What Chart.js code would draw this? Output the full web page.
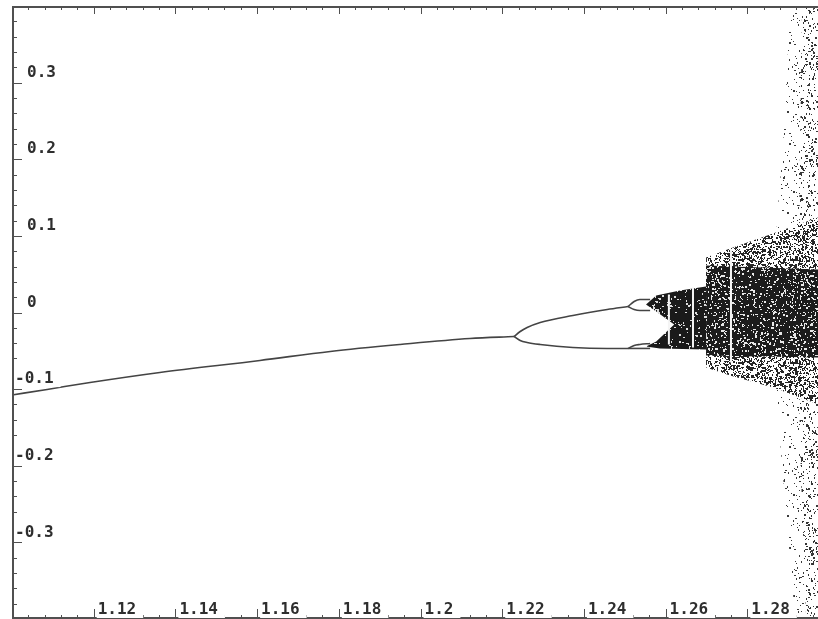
<!DOCTYPE html>
<html>
<head>
<meta charset="utf-8">
<script src="https://cdn.jsdelivr.net/npm/chart.js@4.4.1/dist/chart.umd.min.js"></script>
<style>
  html, body { margin: 0; padding: 0; background: #fff; }
</style>
</head>
<body>
<canvas id="chart" width="818" height="619"></canvas>
<script>
// tick labels
const xTickValues = [1.12, 1.14, 1.16, 1.18, 1.2, 1.22, 1.24, 1.26, 1.28];
const xTickLabels = ["1.12", "1.14", "1.16", "1.18", "1.2", "1.22", "1.24", "1.26", "1.28"];
const yTickValues = [0.3, 0.2, 0.1, 0, -0.1, -0.2, -0.3];
const yTickLabels = ["0.3", "0.2", "0.1", "0", "-0.1", "-0.2", "-0.3"];

// period-1 branch [a, x]
const mainBranch = [[1.1000, -0.1076], [1.1086, -0.1004], [1.1191, -0.0913], [1.1362, -0.0782],
  [1.1607, -0.0626], [1.1779, -0.0508], [1.1950, -0.0417], [1.2121, -0.0339], [1.2229, -0.0313]];

// period-2 branches
const upperBranch = [[1.2229, -0.0313], [1.2244, -0.0248], [1.2261, -0.0196], [1.2293, -0.0130],
  [1.2373, -0.0039], [1.2457, 0.0039], [1.2508, 0.0078]];
const lowerBranch = [[1.2229, -0.0313], [1.2244, -0.0365], [1.2261, -0.0391], [1.2293, -0.0417],
  [1.2373, -0.0456], [1.2457, -0.0469], [1.2508, -0.0469]];

// period-4 loops
const upperLoopTop = [[1.2508, 0.0078], [1.2523, 0.0143], [1.2537, 0.0169], [1.2562, 0.0169]];
const upperLoopBottom = [[1.2508, 0.0078], [1.2523, 0.0039], [1.2537, 0.0026], [1.2562, 0.0026]];
const lowerLoopTop = [[1.2508, -0.0469], [1.2523, -0.0430], [1.2537, -0.0417], [1.2562, -0.0404]];
const lowerLoopBottom = [[1.2508, -0.0469], [1.2562, -0.0469]];

// chaotic regions (outlines)
const bandedChaos = [[1.2552, 0.0104], [1.2577, 0.0222], [1.2635, 0.0287], [1.2699, 0.0339],
  [1.2699, -0.0482], [1.2586, -0.0469], [1.2552, -0.0443], [1.2577, -0.0378],
  [1.2621, -0.0156], [1.2577, 0.0013], [1.2552, 0.0104]];
const coreChaos = [[1.2699, 0.0613], [1.2973, 0.0561], [1.2973, -0.0587], [1.2699, -0.0561], [1.2699, 0.0613]];
const outerChaos = [[1.2699, 0.0717], [1.2758, 0.0834], [1.2863, 0.1030], [1.2973, 0.1239],
  [1.2973, -0.1199], [1.2863, -0.0978], [1.2758, -0.0821], [1.2699, -0.0717], [1.2699, 0.0717]];
const farScatter = [[1.2905, 0.3990], [1.2973, 0.3990], [1.2973, -0.3990], [1.2917, -0.3990],
  [1.2892, -0.2438], [1.2873, -0.1199], [1.2865, 0.0169], [1.2873, 0.1239], [1.2887, 0.2125], [1.2905, 0.3990]];
const edgeScatter = [[1.2934, 0.3990], [1.2973, 0.3990], [1.2973, -0.3990], [1.2944, -0.3990],
  [1.2929, -0.1786], [1.2924, 0.0169], [1.2929, 0.2125], [1.2934, 0.3990]];

// periodic windows
const windowA = [1.2608, 1.2667, 1.2760];
const windowTop = [0.0235, 0.0326, 0.0821];
const windowBottom = [-0.0417, -0.0456, -0.0652];

const pts = arr => arr.map(p => ({ x: p[0], y: p[1] }));

// dotted texture for the chaotic areas
function speckle(base, dot, density, size, seed) {
  const c = document.createElement("canvas");
  c.width = c.height = size;
  const g = c.getContext("2d");
  g.fillStyle = base;
  g.fillRect(0, 0, size, size);
  g.fillStyle = dot;
  let s = seed;
  const next = () => (s = (s * 16807) % 2147483647) / 2147483647;
  const n = Math.floor(size * size * density);
  for (let i = 0; i < n; i++) {
    const w = next() < 0.35 ? 2 : 1;
    const h = next() < 0.35 ? 2 : 1;
    g.fillRect(Math.floor(next() * size), Math.floor(next() * size), w, h);
  }
  return g.createPattern(c, "repeat");
}

const line = (data, color, width, order, smooth) => ({
  data: pts(data), showLine: true, borderColor: color, borderWidth: width,
  pointRadius: 0, fill: false, order: order,
  cubicInterpolationMode: smooth ? "monotone" : "default"
});
const area = (data, pattern, order) => ({
  data: pts(data), showLine: true, borderColor: "rgba(0,0,0,0)", borderWidth: 0,
  pointRadius: 0, fill: "shape", backgroundColor: pattern, order: order
});

const datasets = [
  area(farScatter, speckle("rgba(255,255,255,0)", "#3a3a3a", 0.03, 101, 7), 20),
  area(edgeScatter, speckle("rgba(255,255,255,0)", "#333", 0.06, 97, 11), 19),
  area(outerChaos, speckle("#fff", "#262626", 0.3, 103, 3), 18),
  area(coreChaos, speckle("#1c1c1c", "#e8e8e8", 0.1, 89, 5), 17),
  area(bandedChaos, speckle("#1a1a1a", "#dcdcdc", 0.05, 83, 13), 16)
];
windowA.forEach((a, i) => {
  datasets.push(line([[a, windowTop[i]], [a, windowBottom[i]]], "#f4f4f4", 2, 10, false));
});
[mainBranch, upperBranch, lowerBranch, upperLoopTop, upperLoopBottom, lowerLoopTop, lowerLoopBottom]
  .forEach(b => datasets.push(line(b, "#444", 1.6, 1, true)));

const frame = {
  id: "frame",
  afterDatasetsDraw(chart) {
    const { ctx, chartArea: a, scales: { x, y } } = chart;
    ctx.save();
    ctx.strokeStyle = "#505050";
    ctx.lineWidth = 2;
    ctx.beginPath();
    ctx.moveTo(a.left + 1, a.top); ctx.lineTo(a.left + 1, a.bottom);
    ctx.moveTo(a.left, a.top + 1); ctx.lineTo(a.right, a.top + 1);
    ctx.moveTo(a.left, a.bottom - 1); ctx.lineTo(a.right, a.bottom - 1);
    ctx.stroke();

    // minor / major ticks
    ctx.lineWidth = 1;
    ctx.beginPath();
    for (let i = 0; ; i++) {
      const v = 1.1 + i * 0.004;
      if (v > x.max) break;
      const px = Math.round(x.getPixelForValue(v)) + 0.5;
      const major = i % 5 === 0;
      ctx.moveTo(px, a.top); ctx.lineTo(px, a.top + (major ? 8 : 4));
      ctx.moveTo(px, a.bottom); ctx.lineTo(px, a.bottom - (major ? 10 : 4));
    }
    for (let i = -20; i <= 20; i++) {
      const py = Math.round(y.getPixelForValue(i * 0.02)) + 0.5;
      const major = i % 5 === 0;
      ctx.moveTo(a.left, py); ctx.lineTo(a.left + (major ? 10 : 5), py);
    }
    ctx.stroke();

    ctx.font = "bold 16px 'DejaVu Sans Mono'";
    ctx.textBaseline = "middle";
    ctx.textAlign = "left";
    const label = (txt, lx, cy) => {
      const w = ctx.measureText(txt).width;
      ctx.fillStyle = "#fff";
      ctx.fillRect(lx - 1, cy - 8, w + 8, 16);
      ctx.fillStyle = "#2e2e2e";
      ctx.fillText(txt, lx, cy);
    };
    yTickValues.forEach((v, i) => {
      const txt = yTickLabels[i];
      const cy = y.getPixelForValue(v) - 10;
      const lx = txt.startsWith("-") ? a.left + 3 : a.left + 15;
      label(txt, lx, cy);
    });
    xTickValues.forEach((v, i) => {
      const px = x.getPixelForValue(v);
      label(xTickLabels[i], px + 4, a.bottom - 9);
    });
    ctx.restore();
  }
};

new Chart(document.getElementById("chart").getContext("2d"), {
  type: "scatter",
  data: { datasets },
  options: {
    responsive: false,
    animation: false,
    layout: { padding: { left: 12, top: 6, right: 0, bottom: 0 } },
    plugins: { legend: { display: false }, tooltip: { enabled: false } },
    scales: {
      x: { type: "linear", min: 1.1, max: 1.2973, display: false },
      y: { type: "linear", min: -0.4, max: 0.4, display: false }
    }
  },
  plugins: [frame]
});
</script>
</body>
</html>
